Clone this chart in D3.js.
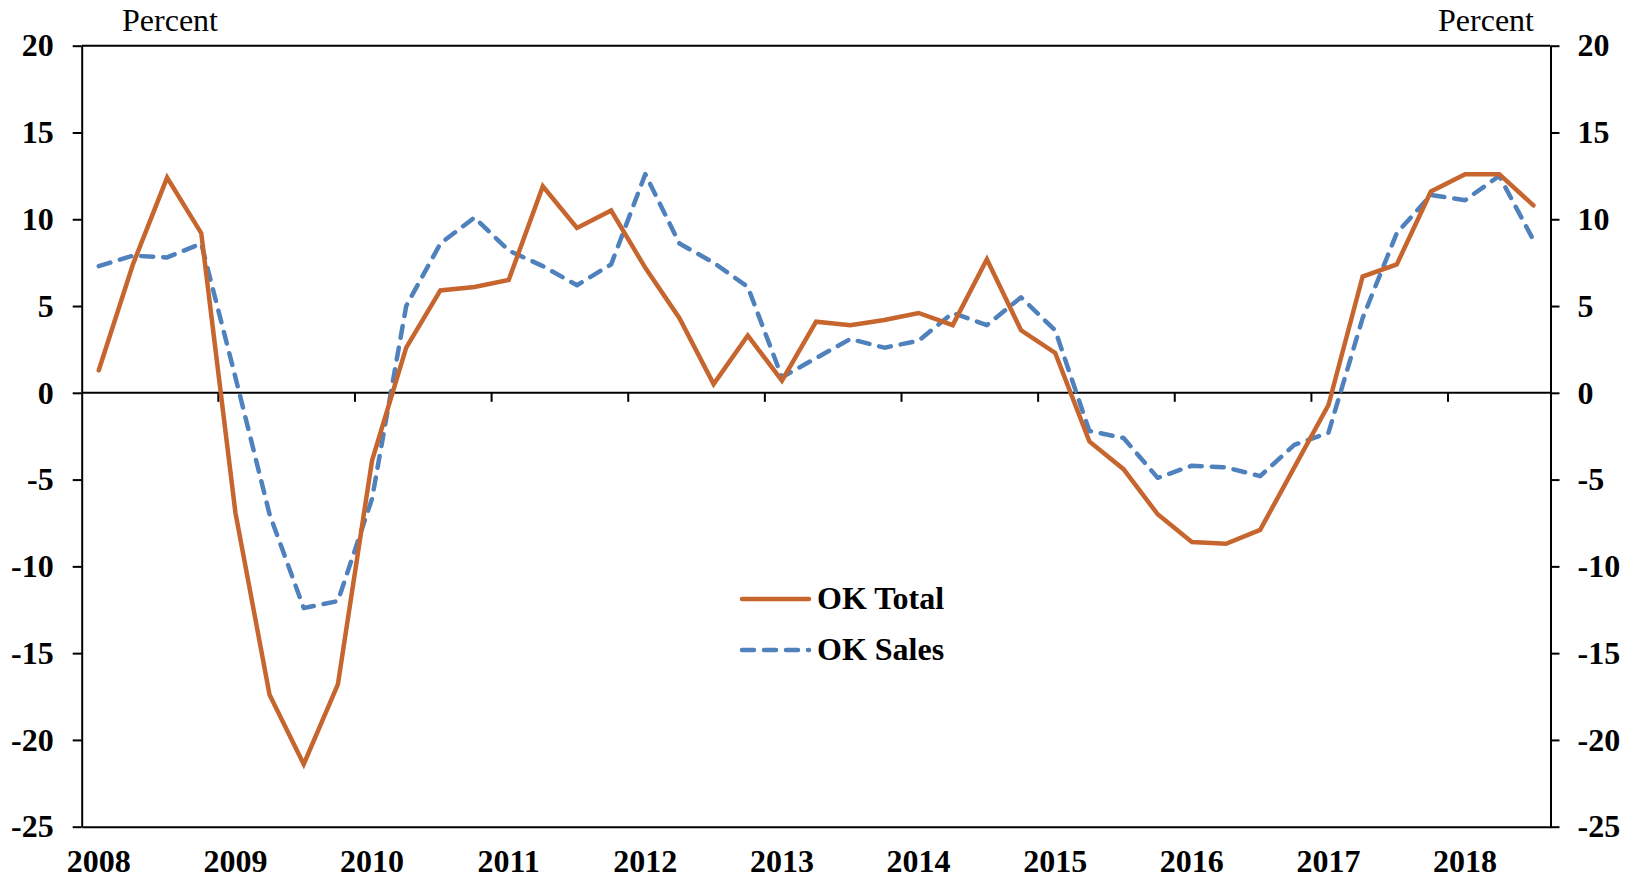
<!DOCTYPE html>
<html>
<head>
<meta charset="utf-8">
<script src="https://cdn.jsdelivr.net/npm/d3@7"></script>
<style>
  body { margin: 0; background: #fff; }
  text { font-family: "Liberation Serif", "Times New Roman", serif; }
</style>
</head>
<body>
<div id="chart"></div>
<script>
// quarterly data, 2008Q1 .. 2018Q3
const years = ["2008", "2009", "2010", "2011", "2012", "2013", "2014", "2015", "2016", "2017", "2018"];
const quarters = [];
years.forEach(yr => ["Q1", "Q2", "Q3", "Q4"].forEach(q => quarters.push(yr + q)));
quarters.splice(43); // last one is 2018Q3

const okTotal = [1.3, 7.4, 12.4, 9.2, -6.9, -17.4, -21.4, -16.8, -3.9, 2.6,
  5.9, 6.1, 6.5, 11.9, 9.5, 10.5, 7.2, 4.3, 0.5, 3.3,
  0.7, 4.1, 3.9, 4.2, 4.6, 3.9, 7.7, 3.6, 2.3, -2.8,
  -4.4, -7.0, -8.6, -8.7, -7.9, -4.3, -0.7, 6.7, 7.4, 11.6,
  12.6, 12.6, 10.8];

const okSales = [7.3, 7.9, 7.8, 8.6, 0.9, -7.0, -12.4, -12.0, -6.1, 5.0,
  8.6, 10.1, 8.2, 7.3, 6.2, 7.4, 12.6, 8.6, 7.5, 6.1,
  0.9, 2.0, 3.1, 2.6, 3.0, 4.6, 3.9, 5.5, 3.6, -2.2,
  -2.6, -4.9, -4.2, -4.3, -4.8, -3.0, -2.3, 4.3, 9.2, 11.4,
  11.1, 12.5, 8.8];

const yTicks = [20, 15, 10, 5, 0, -5, -10, -15, -20, -25];
const seriesNames = ["OK Total", "OK Sales"];

const width = 1636;
const height = 879;
const plotLeft = 81.7, plotRight = 1550.5, plotTop = 45.7, plotBottom = 826.7;

const svg = d3.select("#chart")
  .append("svg")
  .attr("width", width)
  .attr("height", height);

const x = d3.scaleBand()
  .domain(quarters)
  .range([plotLeft, plotRight])
  .paddingInner(0)
  .paddingOuter(0);

const y = d3.scaleLinear()
  .domain([-25, 20])
  .range([plotBottom, plotTop]);

const xc = q => x(q) + x.bandwidth() / 2;
const fmt = d => String(d); // plain hyphen minus, like the original

// top frame line
svg.append("line")
  .attr("x1", plotLeft).attr("x2", plotRight)
  .attr("y1", y(20)).attr("y2", y(20))
  .attr("stroke", "#000").attr("stroke-width", 2);

// left axis
const yLeft = svg.append("g")
  .attr("transform", `translate(${plotLeft},0)`)
  .call(d3.axisLeft(y).tickValues(yTicks).tickFormat(fmt)
    .tickSize(9).tickSizeOuter(0).tickPadding(19));

// right axis
const yRight = svg.append("g")
  .attr("transform", `translate(${plotRight},0)`)
  .call(d3.axisRight(y).tickValues(yTicks).tickFormat(fmt)
    .tickSize(9).tickSizeOuter(0).tickPadding(18));

[yLeft, yRight].forEach(g => {
  g.selectAll("path, line").attr("stroke", "#000").attr("stroke-width", 2);
  g.selectAll("text")
    .attr("font-size", 32)
    .attr("font-weight", "bold")
    .attr("fill", "#000")
    .attr("font-family", "Liberation Serif, Times New Roman, serif");
});

// bottom axis with year labels (labels sit on first quarter of each year)
const xBottom = svg.append("g")
  .attr("transform", `translate(0,${plotBottom})`)
  .call(d3.axisBottom(x)
    .tickValues(quarters.filter((q, i) => i % 4 === 0))
    .tickFormat(q => q.slice(0, 4))
    .tickSize(0)
    .tickSizeOuter(0)
    .tickPadding(23));

xBottom.select(".domain").attr("stroke", "#000").attr("stroke-width", 2);
xBottom.selectAll("text")
  .attr("font-size", 32)
  .attr("font-weight", "bold")
  .attr("fill", "#000")
  .attr("font-family", "Liberation Serif, Times New Roman, serif");

// zero line with year boundary ticks
svg.append("line")
  .attr("x1", plotLeft).attr("x2", plotRight)
  .attr("y1", y(0)).attr("y2", y(0))
  .attr("stroke", "#000").attr("stroke-width", 2);

svg.selectAll(".yeartick")
  .data(quarters.filter((q, i) => i > 0 && i % 4 === 0))
  .enter().append("line")
  .attr("class", "yeartick")
  .attr("x1", d => x(d)).attr("x2", d => x(d))
  .attr("y1", y(0)).attr("y2", y(0) + 9)
  .attr("stroke", "#000").attr("stroke-width", 2);

// "Percent" labels
svg.append("text")
  .attr("x", 170).attr("y", 31)
  .attr("text-anchor", "middle")
  .attr("font-size", 32)
  .text("Percent");

svg.append("text")
  .attr("x", 1534).attr("y", 31)
  .attr("text-anchor", "end")
  .attr("font-size", 32)
  .text("Percent");

// lines
const line = d3.line()
  .x((d, i) => xc(quarters[i]))
  .y(d => y(d));

svg.append("path")
  .datum(okSales)
  .attr("d", line)
  .attr("fill", "none")
  .attr("stroke", "#4F81BD")
  .attr("stroke-width", 4.5)
  .attr("stroke-dasharray", "12,10")
  .attr("stroke-linecap", "round")
  .attr("stroke-linejoin", "round");

svg.append("path")
  .datum(okTotal)
  .attr("d", line)
  .attr("fill", "none")
  .attr("stroke", "#C6652E")
  .attr("stroke-width", 4.5)
  .attr("stroke-linecap", "round");

// legend
const legend = svg.append("g");
const legendItems = [
  { name: seriesNames[0], color: "#C6652E", dash: null, y: 599 },
  { name: seriesNames[1], color: "#4F81BD", dash: "12,10", y: 650 }
];

legendItems.forEach(item => {
  legend.append("line")
    .attr("x1", 742).attr("x2", 809)
    .attr("y1", item.y).attr("y2", item.y)
    .attr("stroke", item.color)
    .attr("stroke-width", 4.5)
    .attr("stroke-linecap", "round")
    .attr("stroke-dasharray", item.dash);
  legend.append("text")
    .attr("x", 817)
    .attr("y", item.y + 10)
    .attr("font-size", 32)
    .attr("font-weight", "bold")
    .text(item.name);
});
</script>
</body>
</html>
